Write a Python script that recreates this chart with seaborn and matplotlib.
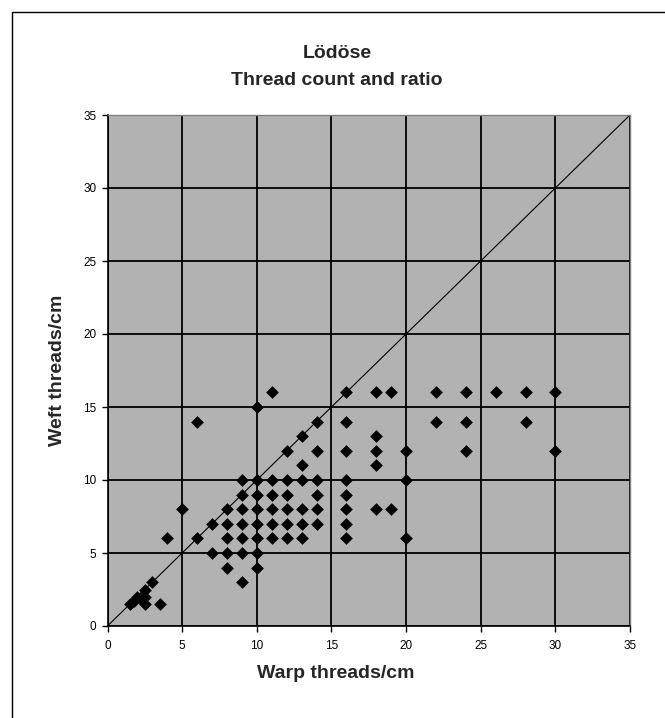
import matplotlib.pyplot as plt
import seaborn as sns
import pandas as pd
from matplotlib.patches import Rectangle

# dados (fios por cm)
warp = [1.5, 1.8, 2, 2.2, 2.5, 2.5, 2.5, 3, 3.5,
        4, 5, 6, 6, 7, 7,
        8, 8, 8, 8, 8,
        9, 9, 9, 9, 9, 9, 9,
        10, 10, 10, 10, 10, 10, 10, 10,
        11, 11, 11, 11, 11, 11,
        12, 12, 12, 12, 12, 12,
        13, 13, 13, 13, 13, 13,
        14, 14, 14, 14, 14, 14,
        16, 16, 16, 16, 16, 16, 16, 16,
        18, 18, 18, 18, 18,
        19, 19,
        20, 20, 20,
        22, 22,
        24, 24, 24,
        26,
        28, 28,
        30, 30]
weft = [1.5, 1.7, 2, 1.9, 1.5, 2, 2.5, 3, 1.5,
        6, 8, 14, 6, 7, 5,
        8, 7, 6, 5, 4,
        10, 9, 8, 7, 6, 5, 3,
        15, 10, 9, 8, 7, 6, 5, 4,
        16, 10, 9, 8, 7, 6,
        12, 10, 9, 8, 7, 6,
        13, 11, 10, 8, 7, 6,
        14, 12, 10, 9, 8, 7,
        16, 14, 12, 10, 9, 8, 7, 6,
        16, 13, 12, 11, 8,
        16, 8,
        12, 10, 6,
        16, 14,
        16, 14, 12,
        16,
        16, 14,
        16, 12]

df = pd.DataFrame({'warp': warp, 'weft': weft})

sns.set_style('white')
plt.rcParams['font.family'] = ['Liberation Sans', 'DejaVu Sans']

W, H = 665, 718
fig = plt.figure(figsize=(W / 100, H / 100), dpi=100)

# moldura do grafico (so esquerda e topo visiveis)
fig.patches.append(Rectangle((12 / W, -0.1), 1.2, 1 - 12 / H + 0.1,
                             transform=fig.transFigure, fill=False,
                             edgecolor='black', lw=1.0))

ax = fig.add_axes([107.5 / W, 1 - 626 / H, (630 - 107.5) / W, (626 - 115) / H])
ax.set_facecolor('#b2b2b2')

ax.plot([0, 35], [0, 35], color='black', lw=0.8, zorder=2)
sns.scatterplot(data=df, x='warp', y='weft', marker='D', color='black',
                s=42, linewidth=0, ax=ax, zorder=3, legend=False)

ax.set_xlim(0, 35)
ax.set_ylim(0, 35)
ax.set_xticks(range(0, 36, 5))
ax.set_yticks(range(0, 36, 5))
ax.grid(True, color='black', lw=1.3)
ax.set_axisbelow(True)
ax.set_xlabel('')
ax.set_ylabel('')

for s in ['left', 'bottom']:
    ax.spines[s].set_color('black')
    ax.spines[s].set_linewidth(1.2)
for s in ['top', 'right']:
    ax.spines[s].set_color('#808080')
    ax.spines[s].set_linewidth(1.0)

ax.tick_params(axis='both', direction='out', length=4, width=1,
               colors='black', labelsize=8.5, bottom=True, left=True)
ax.tick_params(axis='x', pad=6)
ax.tick_params(axis='y', pad=4)

fig.text(337 / W, 1 - 58 / H, 'Lödöse', ha='center', va='baseline',
         fontsize=14, fontweight='bold')
fig.text(337 / W, 1 - 85 / H, 'Thread count and ratio', ha='center',
         va='baseline', fontsize=14, fontweight='bold')
fig.text(336 / W, 1 - 678 / H, 'Warp threads/cm', ha='center', va='baseline',
         fontsize=14, fontweight='bold')
fig.text(58 / W, 1 - 370 / H, 'Weft threads/cm', ha='center', va='center',
         rotation=90, fontsize=14, fontweight='bold')

fig.savefig('out.png', dpi=100)
